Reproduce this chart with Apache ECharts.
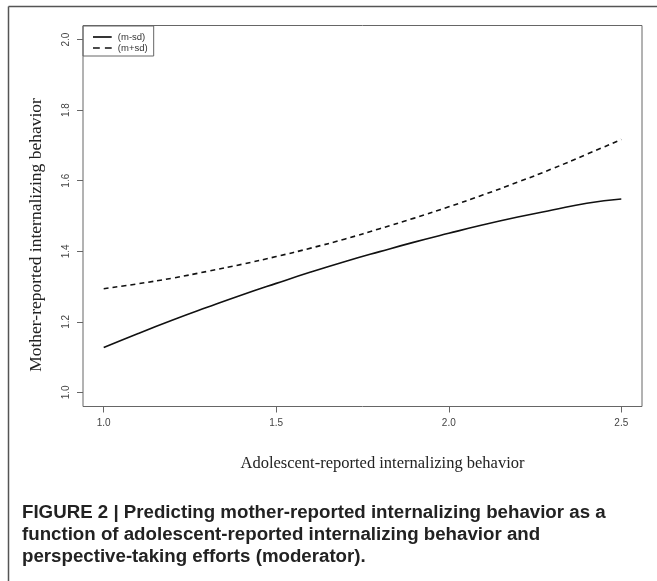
<!DOCTYPE html>
<html>
<head>
<meta charset="utf-8">
<script src="https://cdn.jsdelivr.net/npm/echarts@6/dist/echarts.min.js"></script>
<style>html,body{margin:0;padding:0;background:#fff;}#c{width:657px;height:581px;}</style>
</head>
<body>
<div id="c"></div>
<script>
const xValues = [1.0, 1.1, 1.2, 1.3, 1.4, 1.5, 1.6, 1.7, 1.8, 1.9, 2.0, 2.1, 2.2, 2.3, 2.4, 2.5];
const mMinusSd = [1.127, 1.167, 1.205, 1.241, 1.276, 1.309, 1.341, 1.371, 1.399, 1.426, 1.451, 1.475, 1.497, 1.517, 1.536, 1.548];
const mPlusSd  = [1.294, 1.308, 1.324, 1.343, 1.363, 1.385, 1.409, 1.435, 1.464, 1.494, 1.526, 1.560, 1.596, 1.634, 1.675, 1.717];
const xTicks = [1.0, 1.5, 2.0, 2.5];
const yTicks = [1.0, 1.2, 1.4, 1.6, 1.8, 2.0];
const seriesNames = ['(m-sd)', '(m+sd)'];

const chart = echarts.init(document.getElementById('c'), null, {renderer: 'canvas'});
const axisCol = '#666';
const labelCol = '#444';
chart.setOption({
  animation: false,
  backgroundColor: '#fff',
  title: {
    text: 'FIGURE 2 | Predicting mother-reported internalizing behavior as a\nfunction of adolescent-reported internalizing behavior and\nperspective-taking efforts (moderator).',
    left: 17, top: 497,
    textStyle: {fontFamily: 'Liberation Sans', fontWeight: 'bold', fontSize: 18.7, lineHeight: 21.8, color: '#222'}
  },
  legend: {
    orient: 'vertical', left: 83, top: 26,
    padding: [6, 6, 3, 10], itemGap: 1,
    itemWidth: 21, itemHeight: 1.7,
    borderColor: axisCol, borderWidth: 1, borderRadius: 0,
    textStyle: {fontFamily: 'Liberation Sans', fontSize: 9.5, color: '#333', padding: [0, 0, 0, 0]},
    data: [
      {name: seriesNames[0], icon: 'path://M0,0h22v2h-22z'},
      {name: seriesNames[1], icon: 'path://M0,0h8v2h-8z M14,0h8v2h-8z'}
    ]
  },
  grid: {left: 83, top: 25.5, width: 559, height: 381, show: true, borderColor: axisCol, borderWidth: 1, backgroundColor: 'transparent'},
  xAxis: {
    type: 'value', min: 0.94, max: 2.56,
    name: 'Adolescent-reported internalizing behavior',
    nameLocation: 'middle', nameGap: 49,
    nameTextStyle: {fontFamily: 'Liberation Serif', fontSize: 16.5, color: '#222', padding: [0, 0, 0, 40]},
    axisLine: {show: false},
    splitLine: {show: false},
    axisTick: {show: true, inside: false, length: 6, customValues: xTicks, lineStyle: {color: axisCol}},
    axisLabel: {customValues: xTicks, margin: 12, fontFamily: 'Liberation Sans', fontSize: 10, color: labelCol, formatter: v => v.toFixed(1)}
  },
  yAxis: {
    type: 'value', min: 0.96, max: 2.04,
    name: 'Mother-reported internalizing behavior',
    nameLocation: 'middle', nameGap: 38, nameRotate: 90,
    nameTextStyle: {fontFamily: 'Liberation Serif', fontSize: 17.5, color: '#222', padding: [0, 38, 0, 0]},
    axisLine: {show: false},
    splitLine: {show: false},
    axisTick: {show: true, inside: false, length: 6, customValues: yTicks, lineStyle: {color: axisCol}},
    axisLabel: {customValues: yTicks, rotate: 90, margin: 12, fontFamily: 'Liberation Sans', fontSize: 10, color: labelCol, formatter: v => v.toFixed(1)}
  },
  graphic: [
    {type: 'line', silent: true, shape: {x1: 8.5, y1: 6.5, x2: 657, y2: 6.5}, style: {stroke: '#555', lineWidth: 1.5}},
    {type: 'line', silent: true, shape: {x1: 8.5, y1: 6.5, x2: 8.5, y2: 581}, style: {stroke: '#555', lineWidth: 1.5}}
  ],
  series: [
    {name: seriesNames[0], type: 'line', smooth: true, symbol: 'none',
     lineStyle: {color: '#111', width: 1.6, type: 'solid'}, itemStyle: {color: '#111'},
     data: xValues.map((x, i) => [x, mMinusSd[i]])},
    {name: seriesNames[1], type: 'line', smooth: true, symbol: 'none',
     lineStyle: {color: '#111', width: 1.6, type: [5, 4]}, itemStyle: {color: '#111'},
     data: xValues.map((x, i) => [x, mPlusSd[i]])}
  ]
});
</script>
</body>
</html>
